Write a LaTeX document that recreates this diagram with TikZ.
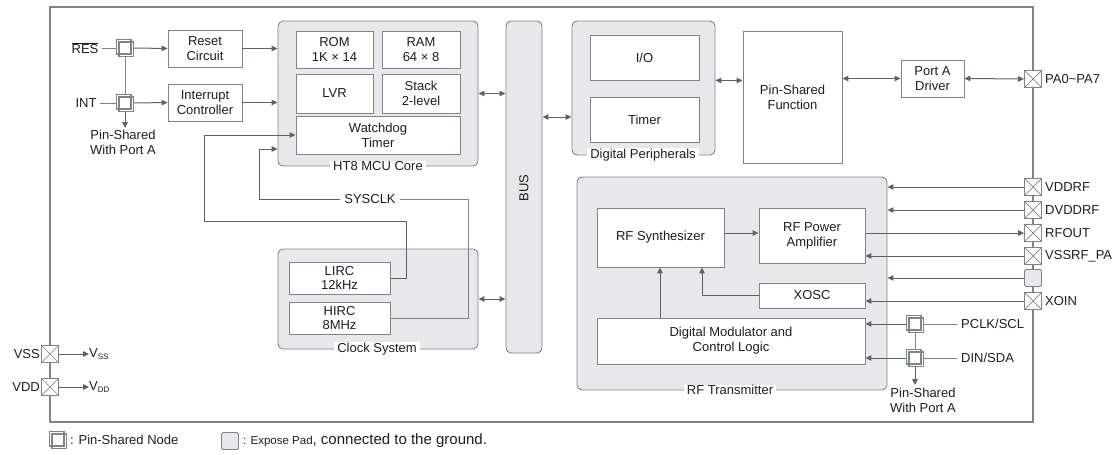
\documentclass[tikz,border=0pt]{standalone}
\usepackage{fontspec}
\setmainfont{Liberation Sans}
\usetikzlibrary{arrows.meta}
\definecolor{ln}{HTML}{80848A}
\definecolor{ar}{HTML}{5C6269}
\definecolor{cf}{HTML}{E8E8EA}
\definecolor{tx}{HTML}{1E1E1E}
\newcommand\bx[7][]{%
  \pgfmathsetmacro\bxw{#5-#3}\pgfmathsetmacro\bxh{#6-#4}%
  \pgfmathsetmacro\bxx{(#3+#5)/2}\pgfmathsetmacro\bxy{(#4+#6)/2}%
  \node[box,#1,minimum width=\bxw pt,minimum height=\bxh pt] (#2) at (\bxx,\bxy) {#7};}
\newcommand\psn[3]{%
  \node[minimum size=18pt,inner sep=0pt] (#1) at (#2,#3) {};
  \fill[white] ({#2-8.5},{#3-8.5}) rectangle ({#2+8.5},{#3+8.5});
  \draw[psq] ({#2-8.5},{#3-8.5}) rectangle ({#2+6},{#3+6});
  \draw[psq] ({#2-6},{#3-6}) rectangle ({#2+8.5},{#3+8.5});}
\begin{document}
\begin{tikzpicture}[x=1pt,y=-1pt,
  font=\fontsize{13}{14.8}\selectfont, text=tx,
  box/.style={draw=ln,fill=white,line width=0.9pt,align=center,inner sep=0pt},
  cont/.style={box,fill=cf,rounded corners=5pt},
  clab/.style={fill=white,inner xsep=3pt,inner ysep=0.5pt},
  lin/.style={draw=ln,line width=1pt},
  arr/.style={draw=ar,line width=1pt,-{Triangle[length=6pt,width=5.5pt]}},
  dar/.style={draw=ar,line width=1pt,{Triangle[length=6pt,width=5.5pt]}-{Triangle[length=6pt,width=5.5pt]}},
  psq/.style={draw=ln,line width=1.2pt},
  pad/.style={draw=ln,fill=white,line width=0.9pt,minimum size=17pt,inner sep=0pt,
    path picture={\draw[ln,line width=0.7pt] (path picture bounding box.north west) -- (path picture bounding box.south east)
      (path picture bounding box.north east) -- (path picture bounding box.south west);}},
  epad/.style={draw=ln,fill=cf,line width=0.9pt,minimum size=17pt,inner sep=0pt,rounded corners=1.5pt},
  plab/.style={anchor=west,inner sep=0pt},
]
\useasboundingbox (0,0) rectangle (1119,455);
% outer frame
\bx[fill=none,line width=1.4pt]{frame}{50}{7}{1033}{422}{}
% helper coordinates
\coordinate (y117) at (0,117);
\coordinate (y149) at (0,149);
\coordinate (y233) at (0,233);
\coordinate (x660) at (660,0);
\coordinate (x702) at (702,0);
% containers
\bx[cont]{mcu}{278}{21}{478}{166}{}
\bx[cont]{bus}{506}{21}{542}{353}{}
\bx[cont]{dp}{572}{21}{715}{155}{}
\bx[cont]{clk}{278}{249}{478}{349}{}
\bx[cont]{rf}{577}{177}{887}{390}{}
\node[clab] at (378,166) {HT8 MCU Core};
\node[clab] at (643,155) {Digital Peripherals};
\node[clab] at (377,349) {Clock System};
\node[clab] at (730,390) {RF Transmitter};
\node[rotate=90] at (524,188) {BUS};
% MCU inner
\bx{rom}{296}{31}{373}{68}{ROM\\1K × 14}
\bx{ram}{382}{31}{460}{68}{RAM\\64 × 8}
\bx{lvr}{296}{74}{373}{113}{LVR}
\bx{stk}{382}{74}{460}{113}{Stack\\2-level}
\bx{wdt}{296}{116}{460}{154}{Watchdog\\Timer}
% left blocks
\bx{rst}{168}{30}{242}{67}{Reset\\Circuit}
\bx{intc}{168}{84}{242}{121}{Interrupt\\Controller}
% digital peripherals
\bx{io}{590}{35}{699}{80}{I/O}
\bx{tmr}{590}{97}{699}{142}{Timer}
\bx{psf}{743}{31}{842}{163}{Pin-Shared\\Function}
\bx{drv}{901}{60}{964}{97}{Port A\\Driver}
% clock
\bx{lirc}{289}{262}{390}{294}{LIRC\\12kHz}
\bx{hirc}{289}{302}{390}{334}{HIRC\\8MHz}
% RF
\bx{syn}{597}{208}{724}{267}{RF Synthesizer}
\bx{pa}{759}{208}{865}{263}{RF Power\\Amplifier}
\bx{xosc}{759}{283}{865}{308}{XOSC}
\bx{dm}{597}{318}{865}{364}{Digital Modulator and\\Control Logic}
% left pins
\node (reslbl) at (85,48) {$\overline{\mbox{RES}}$};
\node (intlbl) at (86,103) {INT};
\psn{res}{125}{48}
\psn{intp}{125}{103}
\coordinate (lps) at (125,128);
\node[anchor=north,align=center,inner sep=0pt] (lpst) at (123,130) {Pin-Shared\\With Port A};
\draw[lin] (reslbl.east) -- (res.west);
\draw[lin] (intlbl.east) -- (intp.west);
\draw[lin] (res.south) -- (intp.north);
\draw[arr] (intp.south) -- (lps);
\draw[arr] (res.east) -- (rst.west);
\draw[arr] (intp.east) -- (intc.west);
\draw[arr] (rst.east) -- (rst.east -| mcu.west);
\draw[arr] (intc.east) -- (intc.east -| mcu.west);
% bus arrows
\draw[dar] (mcu.east) -- (mcu.east -| bus.west);
\draw[dar] (bus.east |- y117) -- (dp.west |- y117);
\draw[dar] (clk.east) -- (clk.east -| bus.west);
\draw[dar] (io.south -| dp.east) -- (io.south -| psf.west);
\draw[dar] (drv.west -| psf.east) -- (drv.west);
% PA pad
\node[pad] (pa07) at (1033,79) {};
\node[plab] at (1045,79) {PA0\textasciitilde PA7};
\draw[dar] (drv.east) -- (pa07.west);
% clock lines
\coordinate (c1) at (406,221);
\coordinate (c2) at (204,221);
\coordinate (c3) at (468,199);
\coordinate (c4) at (259,199);
\node[inner xsep=4pt,inner ysep=0pt] (sys) at (370,199) {SYSCLK};
\draw[arr] (lirc.east) -| (c1) -- (c2) |- (wdt.west);
\draw[lin] (hirc.east) -| (c3) -- (sys.east);
\draw[arr] (sys.west) -- (c4) |- (mcu.west |- y149);
% power pads
\node[pad] (vss) at (50,354) {};
\node[pad] (vdd) at (50,387) {};
\node[anchor=east,inner sep=0pt] at (40,354) {VSS};
\node[anchor=east,inner sep=0pt] at (40,387) {VDD};
\node[plab] (vsst) at (89,354) {V\raisebox{-2pt}{\fontsize{8}{8}\selectfont SS}};
\node[plab] (vddt) at (89,387) {V\raisebox{-2pt}{\fontsize{8}{8}\selectfont DD}};
\draw[arr] (vss.east) -- (vsst.west);
\draw[arr] (vdd.east) -- (vddt.west);
% RF internal arrows
\draw[arr] (syn.east |- y233) -- (pa.west |- y233);
\draw[arr] (dm.north -| x660) -- (syn.south -| x660);
\draw[arr] (xosc.west) -| (syn.south -| x702);
% RF pads
\node[pad] (vddrf) at (1033,187) {};
\node[pad] (dvddrf) at (1033,210) {};
\node[pad] (rfout) at (1033,233) {};
\node[pad] (vssrf) at (1033,256) {};
\node[epad] (ep) at (1033,278) {};
\node[pad] (xoin) at (1033,301) {};
\node[plab] at (1045,187) {VDDRF};
\node[plab] at (1045,210) {DVDDRF};
\node[plab] at (1045,233) {RFOUT};
\node[plab] at (1045,256) {VSSRF\_PA};
\node[plab] at (1045,301) {XOIN};
\draw[arr] (vddrf.west) -- (vddrf.west -| rf.east);
\draw[arr] (dvddrf.west) -- (dvddrf.west -| rf.east);
\draw[arr] (rfout.west -| pa.east) -- (rfout.west);
\draw[arr] (vssrf.west) -- (vssrf.west -| pa.east);
\draw[arr] (ep.west) -- (ep.west -| rf.east);
\draw[arr] (xoin.west) -- (xoin.west -| xosc.east);
% PCLK / DIN
\psn{pclk}{915}{324}
\psn{din}{915}{358}
\node[plab,inner xsep=4pt] (pclkt) at (957,324) {PCLK/SCL};
\node[plab,inner xsep=4pt] (dint) at (957,358) {DIN/SDA};
\draw[lin] (pclk.east) -- (pclkt.west);
\draw[lin] (din.east) -- (dint.west);
\draw[lin] (pclk.south) -- (din.north);
\draw[arr] (pclk.west) -- (pclk.west -| dm.east);
\draw[arr] (din.west) -- (din.west -| dm.east);
\coordinate (rps) at (915,385);
\draw[arr] (din.south) -- (rps);
\node[anchor=north,align=center,inner sep=0pt] at (923,388) {Pin-Shared\\With Port A};
% legend
\psn{lg1}{58}{440}
\node[plab] at (70,440) {: Pin-Shared Node};
\node[epad] (lg2) at (230,441) {};
\node[plab] at (243,441) {{\fontsize{11.5}{12}\selectfont : Expose Pad}{\fontsize{15}{16}\selectfont , connected to the ground.}};
\end{tikzpicture}
\end{document}
